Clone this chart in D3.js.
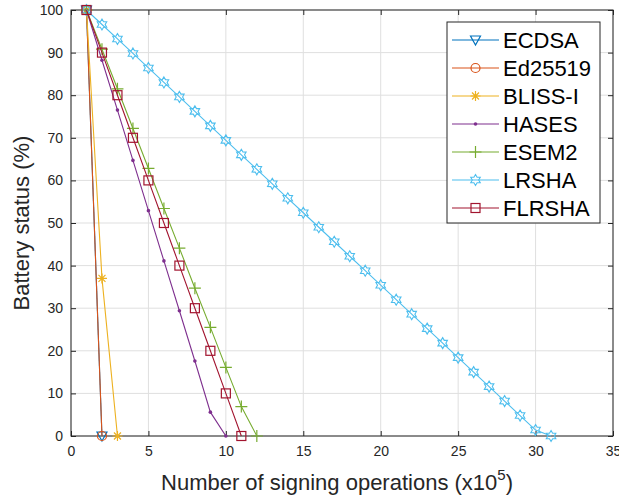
<!DOCTYPE html>
<html>
<head>
<meta charset="utf-8">
<script src="https://cdn.jsdelivr.net/npm/d3@7"></script>
<style>
  body { margin: 0; background: #fff; }
  svg { font-family: "Liberation Sans", Arial, sans-serif; }
</style>
</head>
<body>
<div id="chart"></div>
<script>
// series values (battery % per 10^5 signing operations)
const ecdsaX = [1, 2];
const ecdsaY = [100, 0];
const ed25519X = [1, 2];
const ed25519Y = [100, 0];
const blissX = [1, 2, 3];
const blissY = [100, 37, 0];
const hasesX = [1, 2, 3, 4, 5, 6, 7, 8, 9, 10];
const hasesY = [100, 88.2, 76.5, 64.7, 52.9, 41.1, 29.4, 17.6, 5.6, 0];
const esem2X = [1, 2, 3, 4, 5, 6, 7, 8, 9, 10, 11, 12];
const esem2Y = [100, 90.8, 81.5, 72.2, 62.8, 53.4, 44.1, 34.7, 25.5, 16.1, 6.9, 0];
const lrshaX = [1, 2, 3, 4, 5, 6, 7, 8, 9, 10, 11, 12, 13, 14, 15, 16, 17, 18, 19, 20,
  21, 22, 23, 24, 25, 26, 27, 28, 29, 30, 31];
const lrshaY = [100, 96.6, 93.2, 89.8, 86.4, 83, 79.6, 76.2, 72.8, 69.4, 66, 62.6, 59.2,
  55.8, 52.4, 49, 45.6, 42.2, 38.8, 35.4, 32, 28.6, 25.2, 21.8, 18.4, 15, 11.6, 8.2, 4.8, 1.4, 0];
const flrshaX = [1, 2, 3, 4, 5, 6, 7, 8, 9, 10, 11];
const flrshaY = [100, 90, 80, 70, 60, 50, 40, 30, 20, 10, 0];

const seriesNames = ["ECDSA", "Ed25519", "BLISS-I", "HASES", "ESEM2", "LRSHA", "FLRSHA"];
const xTicks = [0, 5, 10, 15, 20, 25, 30, 35];
const yTicks = [0, 10, 20, 30, 40, 50, 60, 70, 80, 90, 100];

const series = [
  { name: seriesNames[0], xs: ecdsaX, ys: ecdsaY, color: "#0072BD", marker: "tri" },
  { name: seriesNames[1], xs: ed25519X, ys: ed25519Y, color: "#D95319", marker: "circle" },
  { name: seriesNames[2], xs: blissX, ys: blissY, color: "#EDB120", marker: "star" },
  { name: seriesNames[3], xs: hasesX, ys: hasesY, color: "#7E2F8E", marker: "dot" },
  { name: seriesNames[4], xs: esem2X, ys: esem2Y, color: "#77AC30", marker: "plus" },
  { name: seriesNames[5], xs: lrshaX, ys: lrshaY, color: "#4DBEEE", marker: "hex" },
  { name: seriesNames[6], xs: flrshaX, ys: flrshaY, color: "#A2142F", marker: "square" }
];

const W = 619, H = 500;
const margin = { top: 10, right: 6, bottom: 64, left: 71 };
const width = W - margin.left - margin.right,
  height = H - margin.top - margin.bottom;

const svg = d3.select("#chart").append("svg")
  .attr("width", W)
  .attr("height", H);

const g = svg.append("g")
  .attr("transform", `translate(${margin.left},${margin.top})`);

const x = d3.scaleLinear().domain([0, 35]).range([0, width]);
const y = d3.scaleLinear().domain([0, 100]).range([height, 0]);

// grid
g.append("g").selectAll("line").data(xTicks).join("line")
  .attr("x1", d => x(d)).attr("x2", d => x(d))
  .attr("y1", 0).attr("y2", height)
  .attr("stroke", "#dfdfdf").attr("stroke-width", 1);
g.append("g").selectAll("line").data(yTicks).join("line")
  .attr("y1", d => y(d)).attr("y2", d => y(d))
  .attr("x1", 0).attr("x2", width)
  .attr("stroke", "#dfdfdf").attr("stroke-width", 1);

// axes
const axisColor = "#262626";
function styleAxis(sel) {
  sel.select(".domain").remove();
  sel.selectAll(".tick line").attr("stroke", axisColor);
  sel.selectAll(".tick text").attr("fill", axisColor)
    .style("font-size", "14px")
    .style("font-family", "Liberation Sans, Arial, sans-serif");
}
g.append("g").attr("transform", `translate(0,${height})`)
  .call(d3.axisBottom(x).tickValues(xTicks).tickSize(-5).tickPadding(10))
  .call(styleAxis);
g.append("g").attr("transform", "translate(0,0)")
  .call(d3.axisTop(x).tickValues(xTicks).tickSize(-5).tickFormat(""))
  .call(styleAxis);
g.append("g")
  .call(d3.axisLeft(y).tickValues(yTicks).tickSize(-5).tickPadding(8))
  .call(styleAxis);
g.append("g").attr("transform", `translate(${width},0)`)
  .call(d3.axisRight(y).tickValues(yTicks).tickSize(-5).tickFormat(""))
  .call(styleAxis);
g.append("rect")
  .attr("width", width).attr("height", height)
  .attr("fill", "none").attr("stroke", axisColor).attr("stroke-width", 1);

// labels
svg.append("text")
  .attr("x", 337)
  .attr("y", 490)
  .attr("text-anchor", "middle")
  .attr("fill", axisColor)
  .style("font-size", "22px")
  .html('Number of signing operations (x10<tspan dy="-10" style="font-size:15px">5</tspan><tspan dy="10">)</tspan>');

svg.append("text")
  .attr("transform", `translate(29,${margin.top + height / 2}) rotate(-90)`)
  .attr("text-anchor", "middle")
  .attr("fill", axisColor)
  .style("font-size", "22px")
  .text("Battery status (%)");

// markers
function drawMarker(sel, type, color) {
  sel.each(function () {
    const m = d3.select(this);
    if (type === "tri") {
      m.append("path").attr("d", "M-5,-4L5,-4L0,5Z")
        .attr("fill", "none").attr("stroke", color).attr("stroke-width", 1.2);
    } else if (type === "circle") {
      m.append("circle").attr("r", 4.5)
        .attr("fill", "none").attr("stroke", color).attr("stroke-width", 1.2);
    } else if (type === "star") {
      m.append("path").attr("d", "M-5,0L5,0M0,-5L0,5M-3.5,-3.5L3.5,3.5M-3.5,3.5L3.5,-3.5")
        .attr("stroke", color).attr("stroke-width", 1.2);
    } else if (type === "dot") {
      m.append("circle").attr("r", 1.8).attr("fill", color);
    } else if (type === "plus") {
      m.append("path").attr("d", "M-6,0L6,0M0,-6L0,6")
        .attr("stroke", color).attr("stroke-width", 1.2);
    } else if (type === "hex") {
      const r = 5.5, ri = 3.2;
      const pts = d3.range(12).map(i => {
        const a = -Math.PI / 2 + i * Math.PI / 6;
        const rr = i % 2 === 0 ? r : ri;
        return [rr * Math.cos(a), rr * Math.sin(a)];
      });
      m.append("path").attr("d", "M" + pts.join("L") + "Z")
        .attr("fill", "none").attr("stroke", color).attr("stroke-width", 1.1);
    } else if (type === "square") {
      m.append("rect").attr("x", -4.5).attr("y", -4.5).attr("width", 9).attr("height", 9)
        .attr("fill", "none").attr("stroke", color).attr("stroke-width", 1.2);
    }
  });
}

const line = d3.line().x(d => x(d[0])).y(d => y(d[1]));

series.forEach(s => {
  const pts = s.xs.map((v, i) => [v, s.ys[i]]);
  g.append("path").datum(pts)
    .attr("d", line)
    .attr("fill", "none")
    .attr("stroke", s.color)
    .attr("stroke-width", 1.1);
  g.append("g").selectAll("g").data(pts).join("g")
    .attr("transform", d => `translate(${x(d[0])},${y(d[1])})`)
    .call(sel => drawMarker(sel, s.marker, s.color));
});

// legend
const legend = svg.append("g").attr("transform", "translate(447,22)");
legend.append("rect")
  .attr("width", 153).attr("height", 201)
  .attr("fill", "#fff").attr("stroke", axisColor).attr("stroke-width", 1);
series.forEach((s, i) => {
  const ly = 18 + i * 28;
  legend.append("line")
    .attr("x1", 5).attr("x2", 52).attr("y1", ly).attr("y2", ly)
    .attr("stroke", s.color).attr("stroke-width", 1.1);
  legend.append("g").attr("transform", `translate(28.5,${ly})`)
    .call(sel => drawMarker(sel, s.marker, s.color));
  legend.append("text")
    .attr("x", 56).attr("y", ly + 8)
    .attr("fill", "#000")
    .style("font-size", "22px")
    .text(s.name);
});
</script>
</body>
</html>
